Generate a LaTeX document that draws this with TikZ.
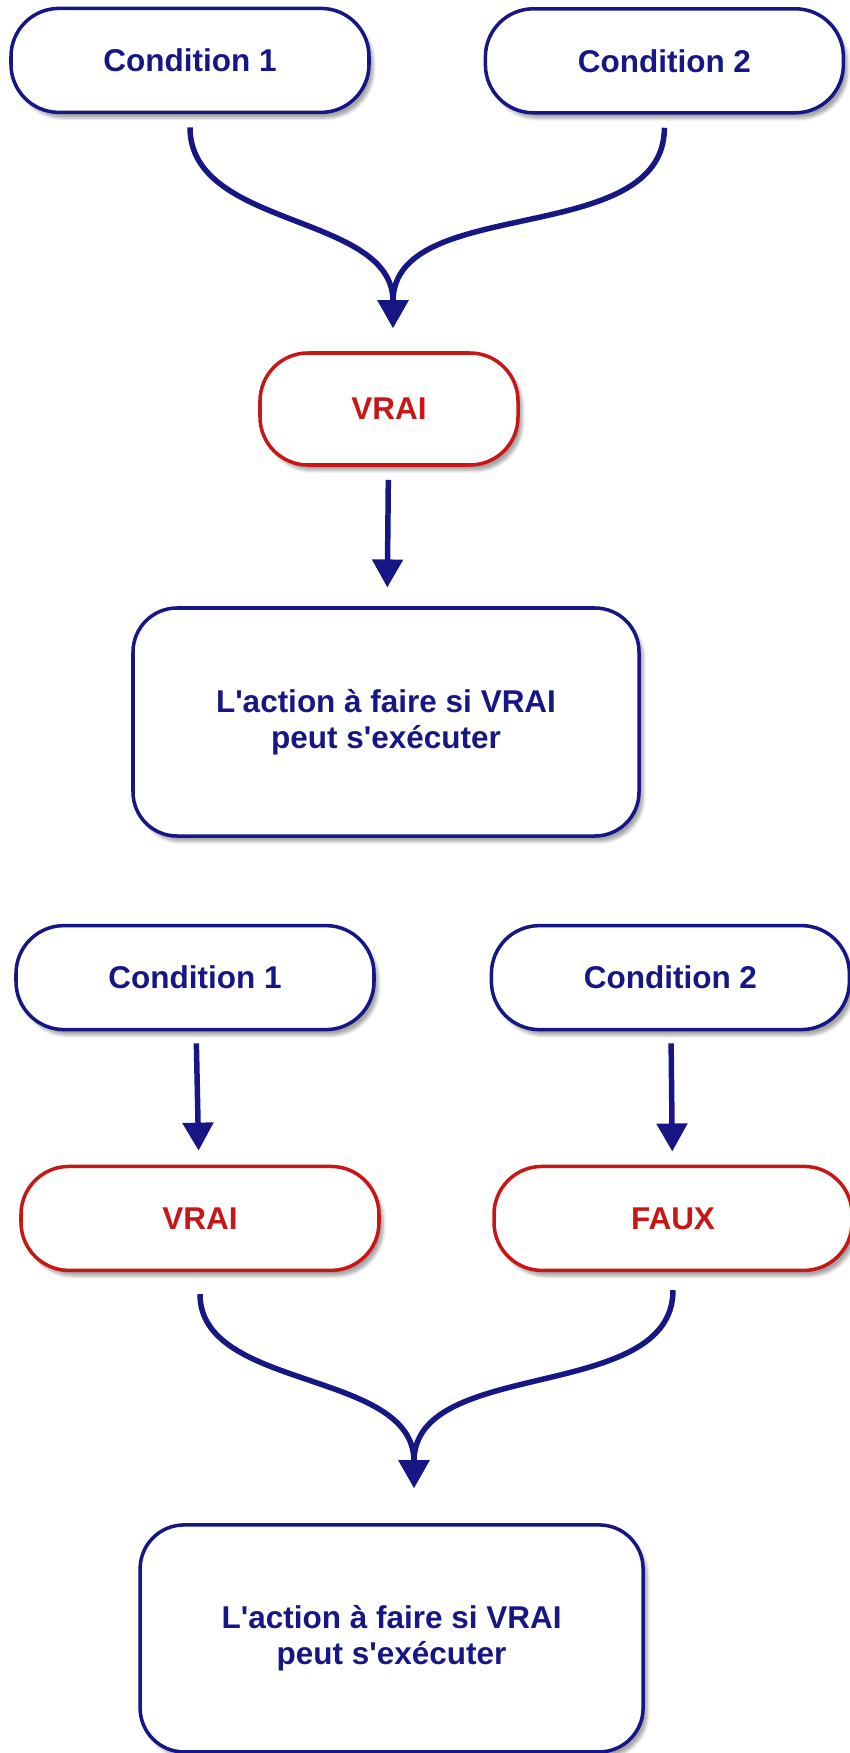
\documentclass[tikz,border=0pt]{standalone}
\usepackage{fontspec}
\setmainfont{Liberation Sans}
\usepackage{tikz}
\usetikzlibrary{arrows.meta,shapes,positioning,shadows.blur}

\definecolor{navy}{RGB}{22,22,132}
\definecolor{redline}{RGB}{200,22,22}

\tikzset{
  boxshadow/.style={blur shadow={shadow xshift=3pt, shadow yshift=-4pt, shadow blur steps=6, shadow opacity=35}},
  condbox/.style={draw=navy, line width=2.5pt, rounded corners=1.2cm, fill=white, boxshadow,
    minimum width=8.95cm, minimum height=2.6cm, text=navy, font=\bfseries\fontsize{22.4}{26}\selectfont},
  resbox/.style={condbox, draw=redline, text=redline},
  actbox/.style={condbox, rounded corners=1.1cm, minimum width=12.65cm, minimum height=5.7cm, align=center},
  flow/.style={draw=navy, line width=3.9pt, -{Triangle[width=0.75cm,length=0.7cm]}}
}

\begin{document}
\begin{tikzpicture}
  \useasboundingbox (0,0) rectangle (21.25,-43.825);

  % First case: both conditions true
  \node[condbox] (c1a) at (4.75,-1.51) {Condition 1};
  \node[condbox] (c2a) at (16.61,-1.52) {Condition 2};
  \node[resbox, minimum width=6.45cm, minimum height=2.8cm] (vraia) at (9.725,-10.225) {VRAI};
  \node[actbox] (acta) at (9.65,-18.05) {L\textquotesingle action à faire si VRAI\\peut s\textquotesingle exécuter};
  \coordinate (join1) at (9.825,-8.2);

  \draw[flow, shorten <=0.33cm] (c1a.south) to[out=-90, in=90] (join1);
  \draw[flow, shorten <=0.33cm] (c2a.south) to[out=-90, in=90] (join1);
  \draw[flow, shorten <=0.33cm, shorten >=0.47cm] (vraia) -- (acta);

  % Second case: one condition false
  \node[condbox] (c1b) at (4.875,-24.44) {Condition 1};
  \node[condbox] (c2b) at (16.76,-24.44) {Condition 2};
  \node[resbox] (vraib) at (5.0,-30.46) {VRAI};
  \node[resbox] (fauxb) at (16.825,-30.46) {FAUX};
  \node[actbox, minimum width=12.575cm, minimum height=5.675cm] (actb) at (9.79,-40.96) {L\textquotesingle action à faire si VRAI\\peut s\textquotesingle exécuter};
  \coordinate (join2) at (10.35,-37.2);

  \draw[flow, shorten <=0.3cm, shorten >=0.35cm] (c1b) -- (vraib);
  \draw[flow, shorten <=0.3cm, shorten >=0.33cm] (c2b) -- (fauxb);
  \draw[flow, shorten <=0.55cm] (vraib.south) to[out=-90, in=90] (join2);
  \draw[flow, shorten <=0.45cm] (fauxb.south) to[out=-90, in=90] (join2);
\end{tikzpicture}
\end{document}
